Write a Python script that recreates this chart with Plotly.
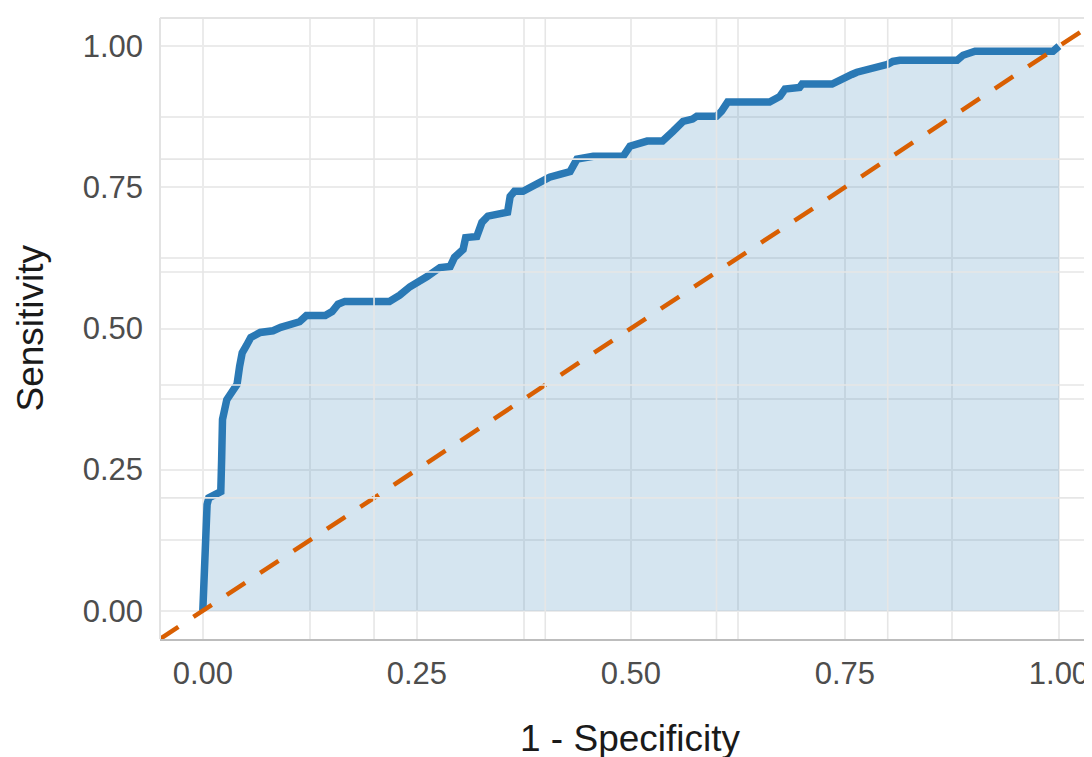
import plotly.graph_objects as go

# ROC curve points (1 - specificity, sensitivity)
fpr = [0.000, 0.001, 0.002, 0.004, 0.005, 0.007, 0.014, 0.021, 0.022, 0.023,
       0.028, 0.035, 0.040, 0.043, 0.046, 0.051, 0.056, 0.067, 0.082, 0.091,
       0.102, 0.113, 0.121, 0.143, 0.151, 0.158, 0.166, 0.218, 0.230, 0.242,
       0.262, 0.277, 0.289, 0.294, 0.304, 0.307, 0.320, 0.326, 0.333, 0.347,
       0.356, 0.359, 0.364, 0.374, 0.382, 0.397, 0.405, 0.417, 0.429, 0.437,
       0.456, 0.491, 0.499, 0.519, 0.537, 0.549, 0.561, 0.572, 0.577, 0.600,
       0.606, 0.613, 0.662, 0.674, 0.680, 0.697, 0.700, 0.735, 0.744, 0.758,
       0.764, 0.794, 0.800, 0.806, 0.814, 0.881, 0.888, 0.902, 0.993, 1.000]
tpr = [0.000, 0.064, 0.117, 0.161, 0.188, 0.200, 0.206, 0.211, 0.268, 0.339,
       0.374, 0.387, 0.401, 0.433, 0.457, 0.470, 0.484, 0.493, 0.496, 0.502,
       0.507, 0.512, 0.523, 0.523, 0.530, 0.543, 0.548, 0.548, 0.559, 0.574,
       0.592, 0.608, 0.610, 0.626, 0.640, 0.661, 0.663, 0.688, 0.699, 0.702,
       0.706, 0.734, 0.743, 0.743, 0.750, 0.764, 0.768, 0.773, 0.778, 0.800,
       0.805, 0.805, 0.823, 0.832, 0.832, 0.849, 0.867, 0.871, 0.876, 0.876,
       0.885, 0.901, 0.901, 0.911, 0.924, 0.927, 0.933, 0.933, 0.941, 0.950,
       0.954, 0.963, 0.968, 0.973, 0.975, 0.975, 0.984, 0.991, 0.991, 1.000]

ref_x = [-0.05, 1.05]
ref_y = [-0.05, 1.05]

tick_vals = [0.0, 0.25, 0.5, 0.75, 1.0]
tick_text = ["0.00", "0.25", "0.50", "0.75", "1.00"]
overlay_grid = [0.2, 0.4, 0.6, 0.8]

line_col = "#2a79b5"
fill_col = "rgba(44,123,182,0.2)"
diag_col = "#d95f02"
grid_col = "#ebebeb"
tick_col = "#4d4d4d"
font_fam = "Liberation Sans, Arial, sans-serif"

fig = go.Figure()
fig.add_trace(go.Scatter(x=fpr, y=tpr, mode="lines", fill="tozeroy",
                         fillcolor=fill_col, line=dict(width=0),
                         hoverinfo="skip", showlegend=False))
fig.add_trace(go.Scatter(x=fpr, y=tpr, mode="lines",
                         line=dict(color=line_col, width=7.5),
                         showlegend=False))
fig.add_trace(go.Scatter(x=ref_x, y=ref_y, mode="lines",
                         line=dict(color=diag_col, width=4.5, dash="22px,18px"),
                         showlegend=False))

shapes = []
for v in overlay_grid:
    shapes.append(dict(type="line", xref="x", yref="paper", x0=v, x1=v, y0=0, y1=1,
                       line=dict(color="#e6e6e6", width=1.6), layer="above"))
    shapes.append(dict(type="line", xref="paper", yref="y", x0=0, x1=1, y0=v, y1=v,
                       line=dict(color="#e6e6e6", width=1.6), layer="above"))
# panel border (top and left)
shapes.append(dict(type="line", xref="paper", yref="paper", x0=0, x1=1, y0=1, y1=1,
                   line=dict(color="#e3e3e3", width=2), layer="above"))
shapes.append(dict(type="line", xref="paper", yref="paper", x0=0, x1=0, y0=0, y1=1,
                   line=dict(color="#e3e3e3", width=2), layer="above"))

fig.update_layout(
    width=1084, height=749,
    margin=dict(l=152, r=0, t=10, b=118),
    paper_bgcolor="white", plot_bgcolor="white",
    font=dict(family=font_fam, color=tick_col),
    shapes=shapes,
    annotations=[
        dict(text="1 - Specificity", xref="x", yref="paper", x=0.5, y=0,
             yshift=-99, showarrow=False, xanchor="center", yanchor="middle",
             font=dict(size=37, color="#1a1a1a", family=font_fam)),
        dict(text="Sensitivity", xref="paper", yref="y", x=0, y=0.5,
             xshift=-130, showarrow=False, textangle=-90,
             xanchor="center", yanchor="middle",
             font=dict(size=37, color="#1a1a1a", family=font_fam)),
    ],
)
fig.update_xaxes(range=[-0.05, 1.0386], tickvals=tick_vals, ticktext=tick_text,
                 showgrid=True, gridcolor=grid_col, gridwidth=2,
                 minor=dict(dtick=0.125, tick0=0, showgrid=True, gridcolor=grid_col, gridwidth=1.5),
                 zeroline=False, showline=True, linecolor="#bdbdbd", linewidth=2,
                 ticks="", ticklabelstandoff=6,
                 tickfont=dict(size=31, color=tick_col, family=font_fam))
fig.update_yaxes(range=[-0.05, 1.05], tickvals=tick_vals, ticktext=tick_text,
                 showgrid=True, gridcolor=grid_col, gridwidth=2,
                 minor=dict(dtick=0.125, tick0=0, showgrid=True, gridcolor=grid_col, gridwidth=1.5),
                 zeroline=False, showline=False,
                 ticks="", ticklabelstandoff=16,
                 tickfont=dict(size=31, color=tick_col, family=font_fam))

fig.write_html("out.html")
